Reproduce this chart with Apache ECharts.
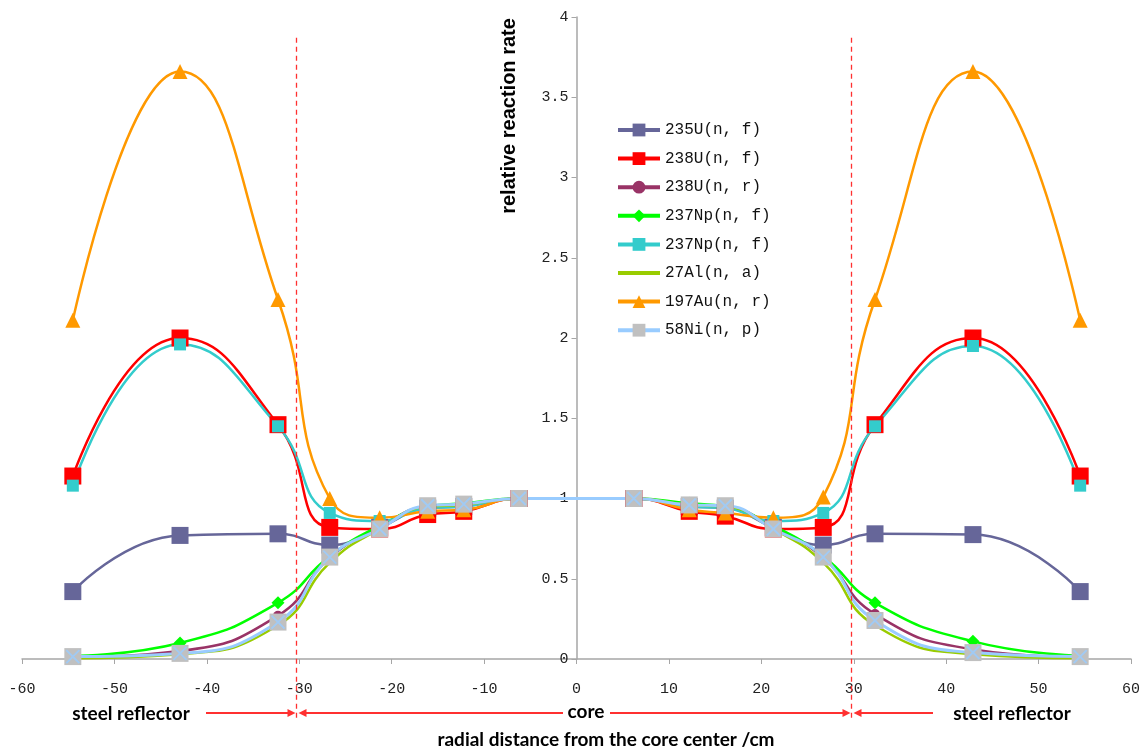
<!DOCTYPE html>
<html>
<head>
<meta charset="utf-8">
<script src="https://cdn.jsdelivr.net/npm/echarts@6/dist/echarts.min.js"></script>
<style>
  html, body { margin: 0; padding: 0; background: #fff; }
  #main { width: 1148px; height: 753px; }
</style>
</head>
<body>
<div id="main"></div>
<script>
// radial positions of the foils (cm)
var xPos = [-54.5, -42.9, -32.3, -26.7, -21.3, -16.1, -12.2, -6.2, 6.2, 12.2, 16.1, 21.3, 26.7, 32.3, 42.9, 54.5];

var u235f  = [0.42, 0.77, 0.78, 0.71, 0.82, 0.94, 0.95, 1.0, 1.0, 0.95, 0.94, 0.82, 0.71, 0.78, 0.775, 0.42];
var u238f  = [1.14, 2.00, 1.46, 0.82, 0.81, 0.90, 0.92, 1.0, 1.0, 0.92, 0.89, 0.81, 0.82, 1.46, 2.00, 1.14];
var u238r  = [0.01, 0.05, 0.27, 0.63, 0.82, 0.95, 0.96, 1.0, 1.0, 0.96, 0.95, 0.82, 0.63, 0.28, 0.06, 0.01];
var np237a = [0.02, 0.10, 0.35, 0.64, 0.83, 0.95, 0.97, 1.0, 1.0, 0.97, 0.95, 0.83, 0.64, 0.35, 0.11, 0.02];
var np237b = [1.08, 1.96, 1.45, 0.91, 0.86, 0.94, 0.95, 1.0, 1.0, 0.95, 0.94, 0.86, 0.91, 1.45, 1.95, 1.08];
var al27   = [0.005, 0.03, 0.21, 0.60, 0.81, 0.95, 0.96, 1.0, 1.0, 0.96, 0.95, 0.81, 0.60, 0.21, 0.03, 0.005];
var au197  = [2.11, 3.66, 2.24, 1.00, 0.88, 0.92, 0.93, 1.0, 1.0, 0.93, 0.91, 0.88, 1.01, 2.24, 3.66, 2.11];
var ni58   = [0.015, 0.035, 0.23, 0.635, 0.81, 0.955, 0.965, 1.0, 1.0, 0.96, 0.955, 0.81, 0.635, 0.24, 0.04, 0.015];

var names = ['235U(n, f)', '238U(n, f)', '238U(n, r)', '237Np(n, f)', '237Np(n, f) ', '27Al(n, a)', '197Au(n, r)', '58Ni(n, p)'];

// region borders (cm)
var coreEdgeL = -30.4, coreEdgeR = 29.75;

function pairs(vals) {
   return vals.map(function (v, i) { return [xPos[i], v]; });
}

function mkLine(name, vals, color, symbol, size, width) {
   return {
      name: name,
      type: 'line',
      smooth: 0.5,
      data: pairs(vals),
      symbol: symbol,
      symbolSize: size,
      showSymbol: symbol != 'none',
      lineStyle: { color: color, width: width || 2.5 },
      itemStyle: { color: color, borderWidth: 0 },
      emphasis: { disabled: true },
      z: 2
   };
}

var chart = echarts.init(document.getElementById('main'));

var mono = 'Liberation Mono, monospace';
var gridL = 22, gridR = 17;
var W = 1148;
// y axis sits at x = 0, i.e. the middle of the x range
var yOffset = -((W - gridL - gridR) / 2);

var legendData = names.map(function (n, i) {
   // 27Al has no marker: keep only the line in its legend icon
   if (i == 5) return { name: n, itemStyle: { color: 'rgba(0,0,0,0)', borderWidth: 0 }, lineStyle: { color: '#99cc00', width: 4 } };
   return n;
});

var option = {
   animation: false,
   backgroundColor: '#fff',
   grid: { left: gridL, right: gridR, top: 17, bottom: 94, outerBoundsMode: 'none' },
   legend: {
      data: legendData,
      orient: 'vertical',
      left: 611,
      top: 117,
      itemWidth: 42,
      itemHeight: 16,
      itemGap: 12.6,
      lineStyle: { width: 4 },
      textStyle: { fontFamily: mono, fontSize: 16, color: '#111' }
   },
   xAxis: {
      type: 'value',
      min: -60, max: 60, interval: 10,
      axisLine: { onZero: false, lineStyle: { color: '#a6a6a6', width: 1.5 } },
      axisTick: { show: true, length: 5, lineStyle: { color: '#a6a6a6' } },
      axisLabel: { fontFamily: mono, fontSize: 15, color: '#222', margin: 23 },
      splitLine: { show: false }
   },
   yAxis: {
      type: 'value',
      position: 'left',
      offset: yOffset,
      min: 0, max: 4, interval: 0.5,
      axisLine: { show: true, onZero: false, lineStyle: { color: '#a6a6a6', width: 1.5 } },
      axisTick: { show: true, length: 5, inside: false, lineStyle: { color: '#a6a6a6' } },
      axisLabel: { fontFamily: mono, fontSize: 15, color: '#222', margin: 8 },
      splitLine: { show: false }
   },
   series: [
      mkLine(names[0], u235f, '#666699', 'rect', 17),
      mkLine(names[1], u238f, '#ff0000', 'rect', 17),
      mkLine(names[2], u238r, '#993366', 'circle', 10),
      mkLine(names[3], np237a, '#00ff00', 'diamond', 13),
      mkLine(names[4], np237b, '#33cccc', 'rect', 12),
      mkLine(names[5], al27, '#99cc00', 'none', 0),
      mkLine(names[6], au197, '#ff9900', 'triangle', 15),
      (function () {
         var s = mkLine(names[7], ni58, '#99ccff', 'rect', 17, 3);
         s.itemStyle = { color: '#c0c0c0', borderWidth: 0 };
         return s;
      })(),
      {
         name: 'ni-cross',
         type: 'scatter',
         data: pairs(ni58),
         symbol: 'path://M0,0 L10,10 M10,0 L0,10',
         symbolSize: 13,
         silent: true,
         itemStyle: { color: 'none', borderColor: '#99ccff', borderWidth: 2 },
         z: 3
      }
   ]
};

chart.setOption(option);

// annotations below the axis, positioned through the x scale
function px(x, y) { return chart.convertToPixel({ gridIndex: 0 }, [x, y]); }

var topY = px(0, 3.87)[1];
var arrowY = 713;
var bL = Math.round(px(coreEdgeL, 0)[0]) + 0.5;
var bR = Math.round(px(coreEdgeR, 0)[0]) + 0.5;
var red = '#ff3030';
var g = [];

[bL, bR].forEach(function (bx) {
   g.push({
      type: 'line', shape: { x1: bx, y1: topY, x2: bx, y2: 718 },
      style: { stroke: red, fill: null, lineWidth: 1.3, lineDash: [5, 4] }, z: 10
   });
});

function arrow(x1, x2) {
   // line from x1 to x2, head at x2
   var dir = x2 > x1 ? 1 : -1;
   g.push({ type: 'line', shape: { x1: x1, y1: arrowY, x2: x2 - dir * 5, y2: arrowY },
      style: { stroke: red, lineWidth: 2 }, z: 10 });
   g.push({ type: 'polygon', shape: { points: [[x2, arrowY], [x2 - dir * 8, arrowY - 4], [x2 - dir * 8, arrowY + 4]] },
      style: { fill: red }, z: 10 });
}
arrow(206, bL - 1);
arrow(563, bL + 2);
arrow(610, bR - 1);
arrow(933, bR + 2);

var bold = { fontFamily: 'Lato, sans-serif', fontWeight: 'bold', fontSize: 19, fill: '#000' };
function label(text, x, y) {
   var st = Object.assign({ text: text, x: x, y: y, align: 'center', verticalAlign: 'middle' }, bold);
   g.push({ type: 'text', style: st, z: 10 });
}
label('steel reflector', 131, 714);
label('core', 586, 712);
label('steel reflector', 1012, 714);
label('radial distance from the core center /cm', 606, 740);

g.push({
   type: 'text', x: 509, y: 116, rotation: Math.PI / 2,
   style: { text: 'relative reaction rate', align: 'center', verticalAlign: 'middle',
      fontFamily: 'Liberation Sans, Arial, sans-serif', fontWeight: 'bold', fontSize: 20, fill: '#000' },
   z: 10
});

chart.setOption({ graphic: g });
</script>
</body>
</html>
